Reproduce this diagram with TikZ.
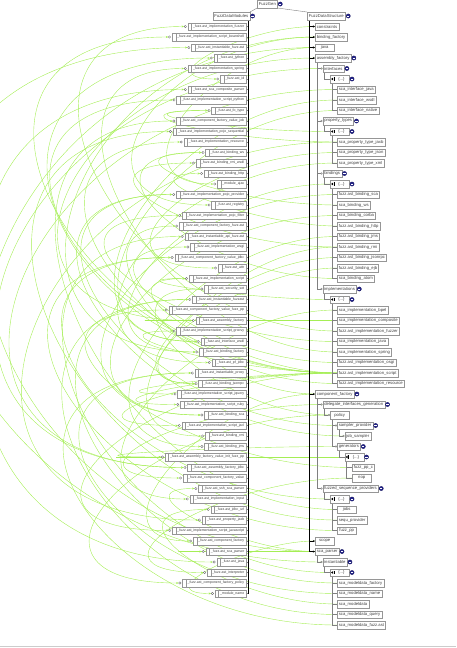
\documentclass[tikz,border=0pt]{standalone}
\usepackage{fontspec}
\setmainfont{Liberation Sans}
\usetikzlibrary{arrows.meta,backgrounds,shadows}

\definecolor{depgreen}{RGB}{165,238,85}
\definecolor{expblue}{RGB}{36,36,140}
\definecolor{boxline}{RGB}{150,150,150}

\begin{document}
\begin{tikzpicture}[
    x=1pt, y=-10.5pt,
    box/.style={draw=boxline, fill=white, line width=0.4pt, minimum height=7.6pt,
        inner ysep=0pt, inner xsep=1.6pt, text=black!75,
        drop shadow={shadow xshift=0.5pt, shadow yshift=-0.5pt, fill=black!30, opacity=1}},
    modnode/.style={box, anchor=east, font=\fontsize{3.5}{4}\selectfont,
        execute at begin node={\hskip3.5pt},
        path picture={\draw[boxline, line width=0.3pt]
            ([xshift=3.6pt]path picture bounding box.south west) --
            ([xshift=3.6pt]path picture bounding box.north west);}},
    datanode/.style={box, anchor=west, font=\fontsize{4.2}{5}\selectfont, minimum width=19pt},
    listnode/.style={datanode, execute at begin node={\hskip3.5pt},
        path picture={\fill[black] ([xshift=0.8pt]path picture bounding box.west)
            -- ++(2.2pt,1.4pt) -- ++(0,-2.8pt) -- cycle;
            \draw[black, line width=0.4pt] ([xshift=3.6pt,yshift=1.6pt]path picture bounding box.west) -- ++(0,-3.2pt);}},
    port/.style={circle, draw=black!60, fill=white, inner sep=0pt, minimum size=2.4pt, line width=0.3pt},
    expander/.style={circle, fill=expblue, draw=expblue!70!black, inner sep=0pt, minimum size=4.2pt,
        path picture={\draw[white, line width=0.5pt]
            ([xshift=-1.2pt]path picture bounding box.center) --
            ([xshift=1.2pt]path picture bounding box.center);}},
    treeedge/.style={draw=black!50, line width=0.4pt},
    rootedge/.style={draw=black, line width=0.6pt},
    dep/.style={draw=depgreen, line width=0.4pt, -{Stealth[length=2.4pt, width=2pt]}},
]
    \useasboundingbox (0,-0.524) rectangle (456,61.19);

    % roots
    \node[datanode] (gen) at (257,-0.14) {FuzzGen};
    \node[datanode, anchor=east] (mods) at (250,1) {FuzzDataModules};
    \node[datanode] (ds) at (307,1) {FuzzDataStructure};

    % modules (left)
    \foreach \lbl [count=\i] in {
        \_fuzz.ast\_implementation\_fuzzer,
        \_fuzz.ast\_implementation\_script\_beanshell,
        \_fuzz.ast\_instantiable\_fuzz.ast,
        \_fuzz.ast\_jython,
        \_fuzz.ast\_implementation\_spring,
        \_fuzz.ast\_id,
        \_fuzz.ast\_sca\_composite\_parser,
        \_fuzz.ast\_implementation\_script\_python,
        \_fuzz.ast\_fo\_type,
        \_fuzz.ast\_component\_factory\_value\_job,
        \_fuzz.ast\_implementation\_pojo\_sequential,
        \_fuzz.ast\_implementation\_resource,
        \_fuzz.ast\_binding\_ws,
        \_fuzz.ast\_binding\_rmi\_wsdl,
        \_fuzz.ast\_binding\_http,
        \_module\_ajax,
        \_fuzz.ast\_implementation\_pojo\_provider,
        \_fuzz.ast\_registry,
        \_fuzz.ast\_implementation\_pojo\_filter,
        \_fuzz.ast\_component\_factory\_fuzz.ast,
        \_fuzz.ast\_instantiable\_api\_fuzz.ast,
        \_fuzz.ast\_implementation\_wsgi,
        \_fuzz.ast\_component\_factory\_value\_jdbc,
        \_fuzz.ast\_attr,
        \_fuzz.ast\_implementation\_script,
        \_fuzz.ast\_security\_set,
        \_fuzz.ast\_instantiable\_fuzzast,
        \_fuzz.ast\_component\_factory\_value\_fuzz\_pp,
        \_fuzz.ast\_assembly\_factory,
        \_fuzz.ast\_implementation\_script\_groovy,
        \_fuzz.ast\_interface\_wsdl,
        \_fuzz.ast\_binding\_factory,
        \_fuzz.ast\_pf\_jdbc,
        \_fuzz.ast\_instantiable\_proxy,
        \_fuzz.ast\_binding\_jsonrpc,
        \_fuzz.ast\_implementation\_script\_jquery,
        \_fuzz.ast\_implementation\_script\_ruby,
        \_fuzz.ast\_binding\_sca,
        \_fuzz.ast\_implementation\_script\_jacl,
        \_fuzz.ast\_binding\_rmi,
        \_fuzz.ast\_binding\_jms,
        \_fuzz.ast\_assembly\_factory\_value\_init\_fuzz\_pp,
        \_fuzz.ast\_assembly\_factory\_jdbc,
        \_fuzz.ast\_component\_factory\_value,
        \_fuzz.ast\_ssh\_sca\_parser,
        \_fuzz.ast\_implementation\_input,
        \_fuzz.ast\_jdbc\_url,
        \_fuzz.ast\_property\_jaxb,
        \_fuzz.ast\_implementation\_script\_javascript,
        \_fuzz.ast\_component\_factory,
        \_fuzz.ast\_sca\_parser,
        \_fuzz.ast\_java,
        \_fuzz.ast\_interpreter,
        \_fuzz.ast\_component\_factory\_policy,
        \_module\_name} {
        \node[modnode] (m\i) at (246,\i+1) {\lbl};
        \node[port] (p\i) at ([xshift=-2.4pt]m\i.west) {};
    }

    % data structure (right)
    \node[datanode] (cons) at (315,2) {constraints};
    \node[datanode] (bfac) at (315,3) {binding\_factory};
    \node[datanode] (java) at (315,4) {java};
    \node[datanode] (afac) at (315,5) {assembly\_factory};
    \node[datanode] (itfs) at (322.5,6) {interfaces};
    \node[listnode] (itfl) at (330,7) {\{...\}};
    \node[datanode] (itj) at (337,8) {sca\_interface\_java};
    \node[datanode] (itw) at (337,9) {sca\_interface\_wsdl};
    \node[datanode] (itn) at (337,10) {sca\_interface\_native};
    \node[datanode] (ptyp) at (322.5,11) {property\_types};
    \node[listnode] (ptl) at (330,12) {\{...\}};
    \node[datanode] (pt1) at (337,13) {sca\_property\_type\_jaxb};
    \node[datanode] (pt2) at (337,14) {sca\_property\_type\_json};
    \node[datanode] (pt3) at (337,15) {sca\_property\_type\_xml};
    \node[datanode] (bnds) at (322.5,16) {bindings};
    \node[listnode] (bnl) at (330,17) {\{...\}};
    \foreach \lbl [count=\k] in {fuzz.ast\_binding\_sca, sca\_binding\_ws, sca\_binding\_corba,
        fuzz.ast\_binding\_http, fuzz.ast\_binding\_jms, fuzz.ast\_binding\_rmi,
        fuzz.ast\_binding\_jsonrpc, fuzz.ast\_binding\_ejb, sca\_binding\_atom}
        \node[datanode] (b\k) at (337,\k+17) {\lbl};
    \node[datanode] (imps) at (322.5,27) {implementations};
    \node[listnode] (iml) at (330,28) {\{...\}};
    \foreach \lbl [count=\k] in {sca\_implementation\_bpel, sca\_implementation\_composite,
        fuzz.ast\_implementation\_fuzzer, sca\_implementation\_java, sca\_implementation\_spring,
        fuzz.ast\_implementation\_osgi, fuzz.ast\_implementation\_script,
        fuzz.ast\_implementation\_resource}
        \node[datanode] (i\k) at (337,\k+28) {\lbl};
    \node[datanode] (cfac) at (315,37) {component\_factory};
    \node[datanode] (dig) at (322.5,38) {delegate\_interfaces\_generation};
    \node[datanode] (pol) at (330,39) {policy};
    \node[datanode] (spr) at (337,40) {sampler\_provider};
    \node[datanode] (jsam) at (344.5,41) {job\_sampler};
    \node[datanode] (gens) at (337,42) {generators};
    \node[listnode] (gnl) at (344.5,43) {\{...\}};
    \node[datanode] (g1) at (352,44) {fuzz\_pp\_c};
    \node[datanode] (g2) at (352,45) {nop};
    \node[datanode] (fpr) at (322.5,46) {fuzzed\_sequence\_providers};
    \node[listnode] (fpl) at (330,47) {\{...\}};
    \node[datanode] (f1) at (337,48) {jobs};
    \node[datanode] (f2) at (337,49) {sequ\_provider};
    \node[datanode] (f3) at (337,50) {fuzz\_pp};
    \node[datanode] (scop) at (315,51) {scope};
    \node[datanode] (scp) at (315,52) {sca\_parser};
    \node[datanode] (inst) at (322.5,53) {instantiable};
    \node[listnode] (inl) at (330,54) {\{...\}};
    \foreach \lbl [count=\k] in {sca\_modeldata\_factory, sca\_modeldata\_name, sca\_modeldata,
        sca\_modeldata\_query, sca\_modeldata\_fuzz.ast}
        \node[datanode] (n\k) at (337,\k+54) {\lbl};

    \foreach \n in {gen, mods, ds, afac, itfs, itfl, ptyp, ptl, bnds, bnl, imps, iml,
        cfac, dig, spr, gens, gnl, fpr, fpl, scp, inst, inl}
        \node[expander] (\n-x) at ([xshift=2.6pt]\n.east) {};

    \coordinate (lspine) at ([xshift=-1.8pt]mods.south east);

    \begin{scope}[on background layer]
        % dependencies
        \foreach \s/\t in {i3/1, i7/2, inst/3, i7/4, i5/5, cons/6, scp/7, i7/8, pt1/9, f1/10,
            f2/11, i8/12, b2/13, b6/14, b4/15, java/16, spr/17, bfac/18, i4/19, cfac/20,
            inl/21, i6/22, f3/23, pt2/24, i7/25, pol/26, n1/27, g1/28, afac/29, i7/30,
            itw/31, bfac/32, pt3/33, n2/34, b7/35, i7/36, i7/37, b1/38, i7/39, b6/40,
            b5/41, gens/42, itfs/43, dig/44, scp/45, i1/46, n3/47, pt1/48, i7/49, cfac/50,
            scp/51, java/52, g2/53, pol/54, scop/55, itj/43, itn/31, b3/38, b8/35, b9/13,
            i2/29, jsam/17, n4/27, n5/34, ptl/9, bnl/32, iml/25, fpl/23, gnl/42} {
            \pgfmathsetmacro\lo{1.45+0.18*mod(\t,5)}
            \draw[dep] (\s.west) to[out=180, in=180, looseness=\lo] (p\t.west);
        }

        % tree
        \draw[treeedge] (gen.south west) -- (mods.north east);
        \draw[treeedge] (gen.south east) -- (ds.north west);
        \draw[rootedge, line width=1.1pt] (lspine) -- (lspine |- m55.east);
        \foreach \i in {1,...,55}
            \draw[treeedge] (m\i.east) -- (m\i.east -| lspine);
        \foreach \p/\c in {ds/cons, ds/bfac, ds/java, ds/afac, ds/cfac, ds/scop, ds/scp}
            \draw[rootedge, -{Stealth[length=2pt, width=2pt]}] ([xshift=2pt]\p.south west) |- (\c.west);
        \foreach \p/\c in {afac/itfs, afac/ptyp, afac/bnds, afac/imps, cfac/dig, cfac/fpr,
            scp/inst, dig/pol, pol/spr, pol/gens, spr/jsam}
            \draw[treeedge, -{Circle[open, length=2pt]}] ([xshift=2pt]\p.south west) |- (\c.west);
        \foreach \p/\c in {itfs/itfl, itfl/itj, itfl/itw, itfl/itn, ptyp/ptl, ptl/pt1, ptl/pt2,
            ptl/pt3, bnds/bnl, imps/iml, gens/gnl, gnl/g1, gnl/g2, fpr/fpl, fpl/f1, fpl/f2,
            fpl/f3, inst/inl}
            \draw[treeedge] ([xshift=2pt]\p.south west) |- (\c.west);
        \foreach \k in {1,...,9}
            \draw[treeedge] ([xshift=2pt]bnl.south west) |- (b\k.west);
        \foreach \k in {1,...,8}
            \draw[treeedge] ([xshift=2pt]iml.south west) |- (i\k.west);
        \foreach \k in {1,...,5}
            \draw[treeedge] ([xshift=2pt]inl.south west) |- (n\k.west);
    \end{scope}

    \draw[black!20, line width=0.8pt] (0,61) -- (456,61);
\end{tikzpicture}
\end{document}
